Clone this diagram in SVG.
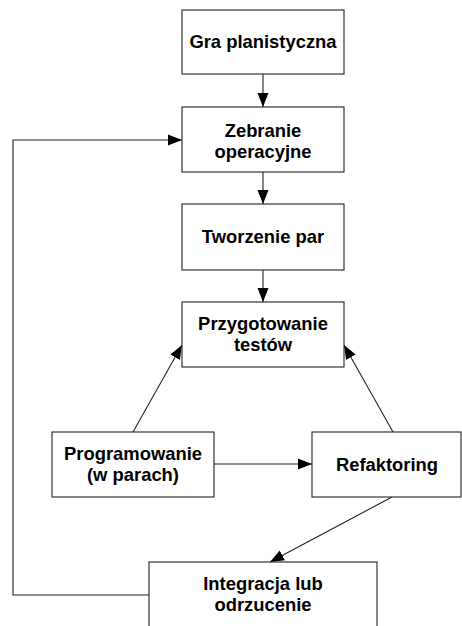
<svg xmlns="http://www.w3.org/2000/svg" width="462" height="626" viewBox="0 0 462 626">
<style>
.box{fill:#fff;stroke:#222;stroke-width:1.1}
.t{font-family:"Liberation Sans",Arial,sans-serif;font-weight:bold;font-size:18.4px;fill:#000;text-anchor:middle}
.c{fill:none;stroke:#222;stroke-width:1.1;marker-end:url(#ah)}
</style>
<defs>
<marker id="ah" markerUnits="userSpaceOnUse" markerWidth="15" markerHeight="12" refX="14" refY="6" orient="auto">
<path d="M0,0.5 L14,6 L0,11.5 z" fill="#000"/>
</marker>
</defs>
<rect width="462" height="626" fill="#fff"/>
<g id="connectors">
<line class="c" x1="263" y1="74" x2="263" y2="107"/>
<line class="c" x1="263" y1="172" x2="263" y2="204"/>
<line class="c" x1="263" y1="270" x2="263" y2="302"/>
<line class="c" x1="133" y1="432" x2="182" y2="345"/>
<line class="c" x1="393" y1="432" x2="344" y2="345"/>
<line class="c" x1="214" y1="464" x2="312" y2="464"/>
<line class="c" x1="392" y1="497" x2="270" y2="562"/>
<polyline class="c" points="149,595 13,595 13,140 182,140"/>
</g>
<g id="gra"><rect class="box" x="182" y="10" width="162" height="64"/><text class="t" x="263" y="48">Gra planistyczna</text></g>
<g id="zebranie"><rect class="box" x="182" y="107" width="162" height="65"/><text class="t" x="263" y="137">Zebranie</text><text class="t" x="263" y="158">operacyjne</text></g>
<g id="tworzenie"><rect class="box" x="182" y="204" width="162" height="66"/><text class="t" x="263" y="243">Tworzenie par</text></g>
<g id="przygotowanie"><rect class="box" x="182" y="302" width="162" height="65"/><text class="t" x="263" y="330">Przygotowanie</text><text class="t" x="263" y="351">testów</text></g>
<g id="programowanie"><rect class="box" x="52" y="432" width="162" height="65"/><text class="t" x="133" y="460">Programowanie</text><text class="t" x="133" y="481">(w parach)</text></g>
<g id="refaktoring"><rect class="box" x="312" y="432" width="149" height="65"/><text class="t" x="387" y="471">Refaktoring</text></g>
<g id="integracja"><rect class="box" x="149" y="562" width="228" height="70"/><text class="t" x="263" y="590">Integracja lub</text><text class="t" x="263" y="611">odrzucenie</text></g>
</svg>
